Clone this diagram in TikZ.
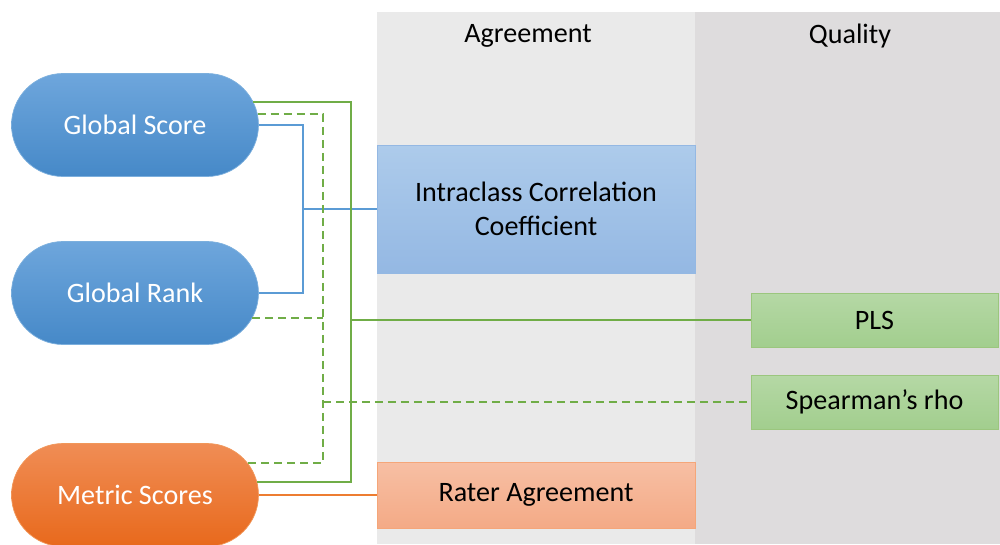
\documentclass[tikz,border=0pt]{standalone}
\usepackage{fontspec}
\setmainfont{Carlito}
\usetikzlibrary{shapes.misc}

\definecolor{agreecol}{HTML}{EAEAEA}
\definecolor{qualcol}{HTML}{DEDCDD}
\definecolor{bluetop}{HTML}{6EA6DC}
\definecolor{bluebot}{HTML}{4689C8}
\definecolor{orangetop}{HTML}{F08D55}
\definecolor{orangebot}{HTML}{E8691C}
\definecolor{icctop}{HTML}{ADCBEB}
\definecolor{iccbot}{HTML}{94B8E3}
\definecolor{raterttop}{HTML}{F7BFA4}
\definecolor{raterbot}{HTML}{F4AA86}
\definecolor{greentop}{HTML}{B5D8A5}
\definecolor{greenbot}{HTML}{A2CE8E}
\definecolor{lineblue}{HTML}{5B9BD5}
\definecolor{linegreen}{HTML}{70AD47}
\definecolor{lineorange}{HTML}{ED7D31}

\tikzset{%
  % Specifications for style of nodes:
         pill/.style = {rounded rectangle, minimum width=4.94cm, minimum height=2.06cm, inner sep=0pt, text=white, font=\fontsize{16}{19.3}\selectfont},
     bluepill/.style = {pill, top color=bluetop, bottom color=bluebot, draw=lineblue!80},
   orangepill/.style = {pill, top color=orangetop, bottom color=orangebot, draw=lineorange!80},
      methbox/.style = {rectangle, inner sep=0pt, font=\fontsize{16}{19.3}\selectfont, align=center},
       iccbox/.style = {methbox, minimum width=6.36cm, minimum height=2.56cm, top color=icctop, bottom color=iccbot, draw=iccbot},
     raterbox/.style = {methbox, minimum width=6.36cm, minimum height=1.32cm, top color=raterttop, bottom color=raterbot, draw=raterbot!90!orange},
     greenbox/.style = {methbox, minimum width=4.94cm, minimum height=1.08cm, top color=greentop, bottom color=greenbot, draw=linegreen!70},
     colhead/.style = {font=\fontsize{16}{19.3}\selectfont},
  % Specifications for style of lines:
         link/.style = {line width=1.1pt},
}

\begin{document}
\begin{tikzpicture}[x=0.02cm, y=-0.02cm]
    \useasboundingbox (0,0) rectangle (1000,544);

    % Draw columns
    \fill[agreecol] (377,12) rectangle (695,544);
    \fill[qualcol]  (695,12) rectangle (1000,544);
    \node (agree)   [colhead] at (528,36)         {Agreement};
    \node (quality) [colhead] at (850,36)         {Quality};

    % Draw nodes
    \node (gscore)  [bluepill]   at (135,125)     {Global Score};
    \node (grank)   [bluepill]   at (135,293)     {Global Rank};
    \node (mscore)  [orangepill] at (135,495)     {Metric Scores};

    \node (icc)     [iccbox]     at (536,209)     {Intraclass Correlation\\Coefficient};
    \node (rater)   [raterbox]   at (536,495)     {Rater Agreement};
    \node (pls)     [greenbox]   at (874.5,320)   {PLS};
    \node (rho)     [greenbox]   at (874.5,402)   {Spearman’s rho};

    % Bus lines
    \coordinate (bbus) at (303,0);
    \coordinate (dbus) at (323,0);
    \coordinate (gbus) at (351,0);

    % Draw arrows
    \draw[link, lineblue]   (gscore.east) -- (gscore.east -| bbus) -- (grank.east -| bbus) -- (grank.east);
    \draw[link, lineblue]   (icc.west -| bbus) -- (icc.west);

    \draw[link, linegreen]  (gscore.11) -- (gscore.11 -| gbus) -- (mscore.6 -| gbus) -- (mscore.6);
    \draw[link, linegreen]  (pls.west -| gbus) -- (pls.west);

    \draw[link, linegreen, dash pattern=on 0.16cm off 0.1cm]  (gscore.5.5) -- (gscore.5.5 -| dbus) -- (mscore.16 -| dbus) -- (mscore.16);
    \draw[link, linegreen, dash pattern=on 0.16cm off 0.1cm]  (grank.-12) -- (grank.-12 -| dbus);
    \draw[link, linegreen, dash pattern=on 0.16cm off 0.1cm]  (rho.west -| dbus) -- (rho.west);

    \draw[link, lineorange] (mscore.east) -- (rater.west);

\end{tikzpicture}
\end{document}
